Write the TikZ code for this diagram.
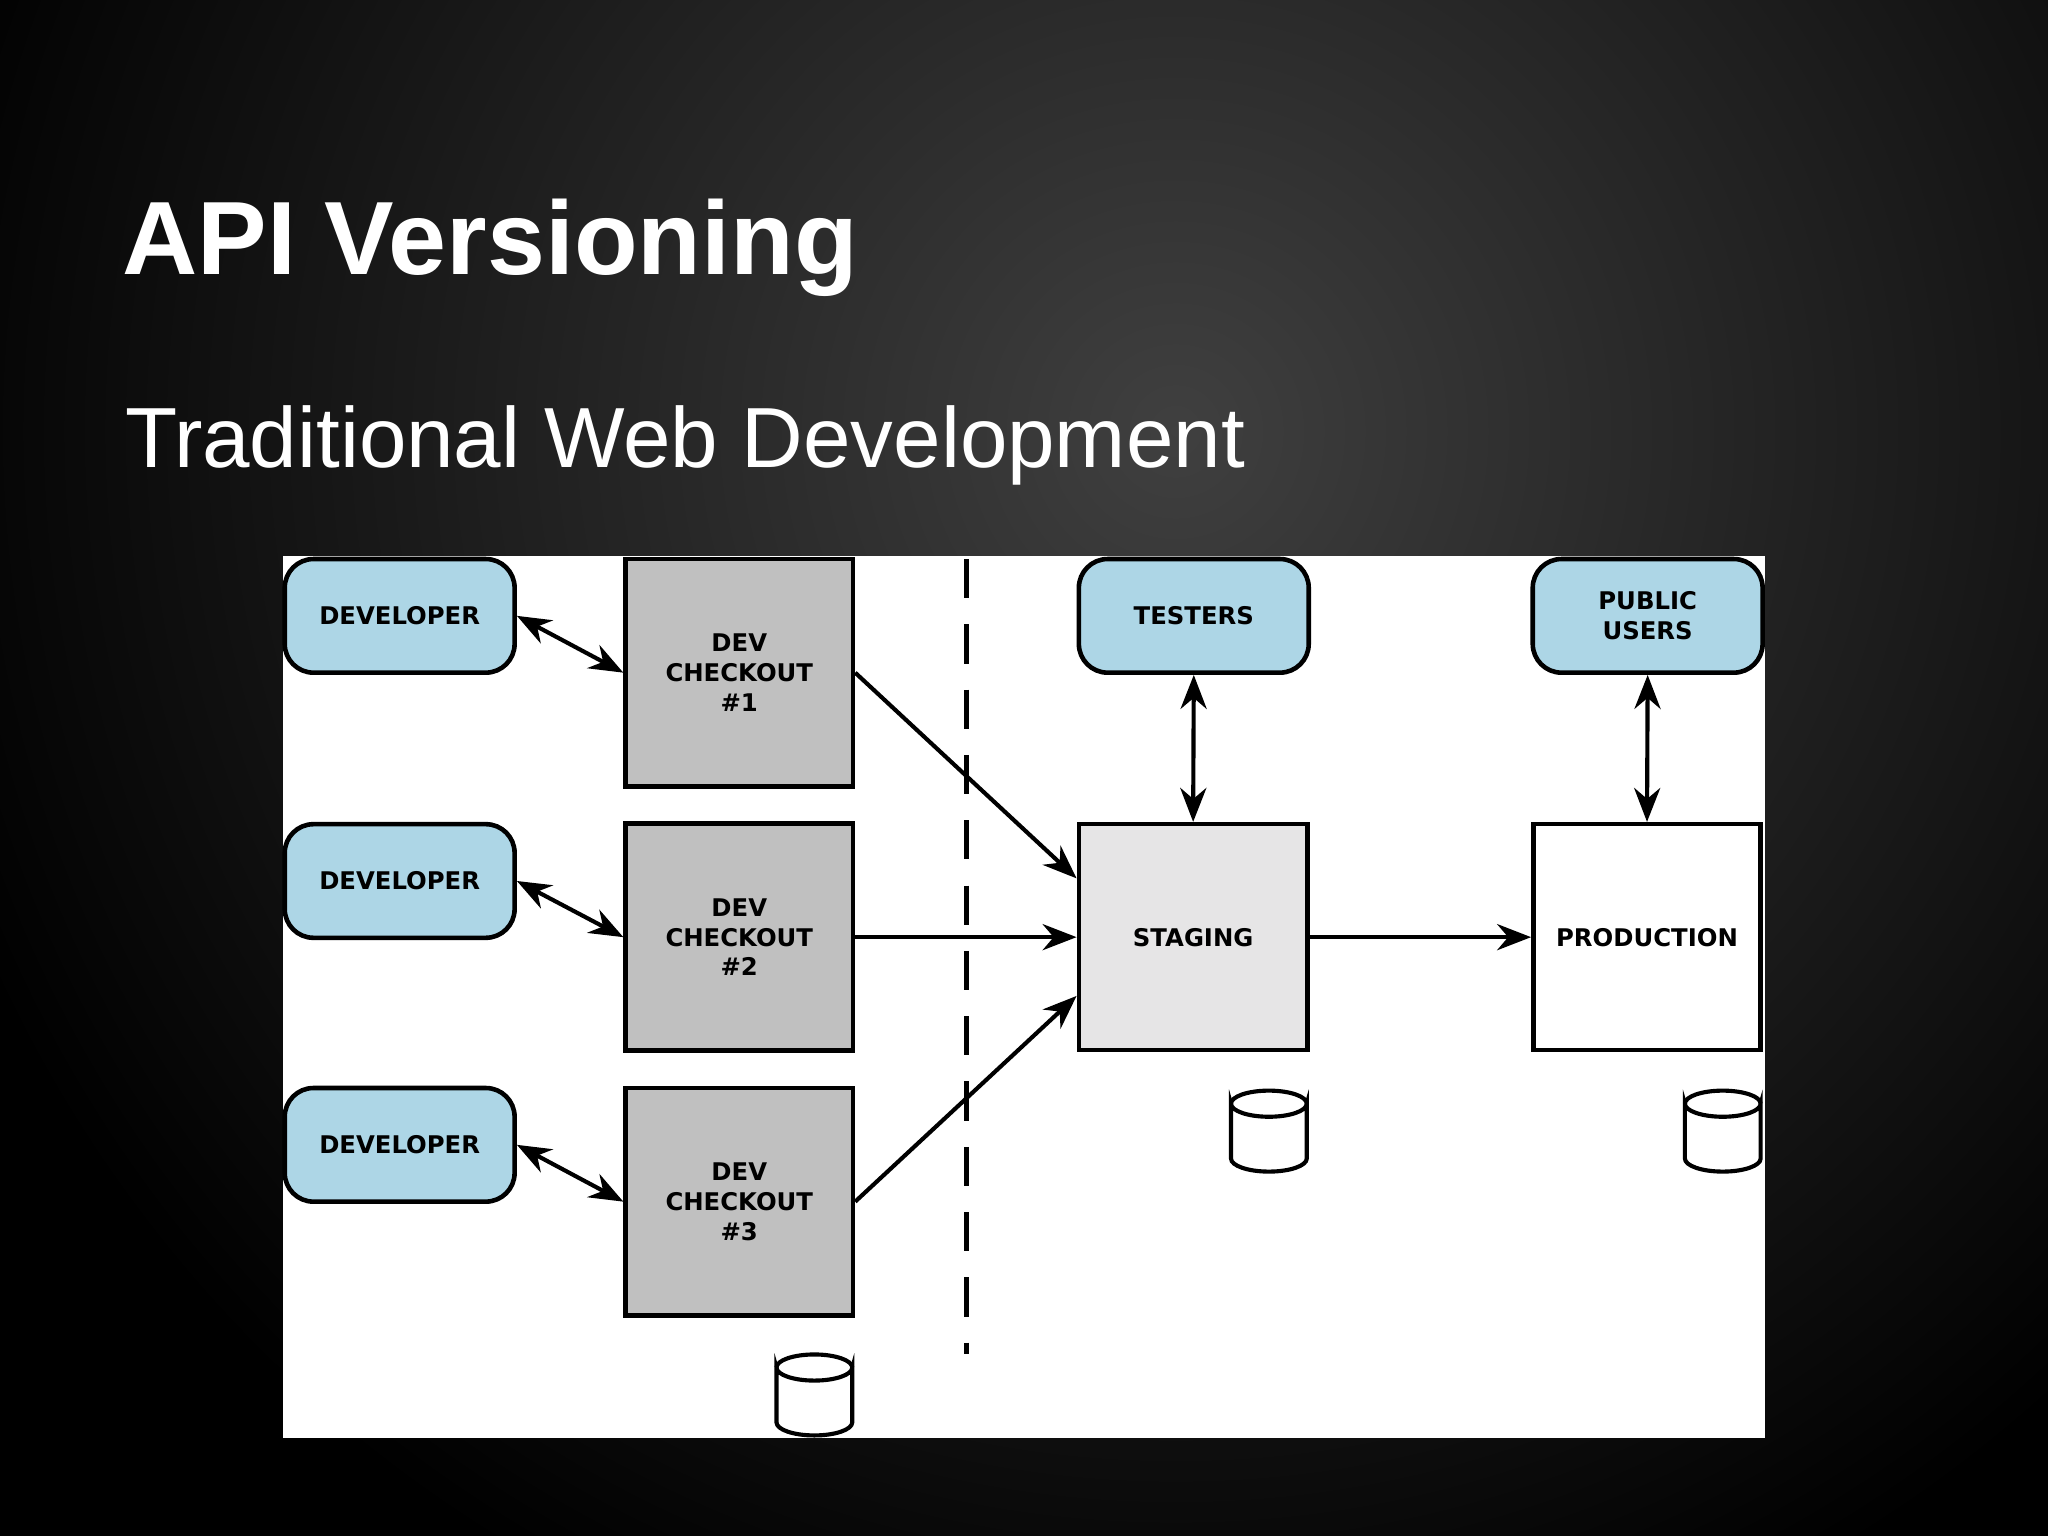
\documentclass[tikz,border=0pt]{standalone}
\usepackage{fontspec}
\setmainfont{Liberation Sans}
\newfontfamily\boxfont{DejaVu Sans}
\usetikzlibrary{arrows.meta,calc}
\definecolor{lblue}{HTML}{ADD6E6}
\definecolor{ckgray}{HTML}{C0C0C0}
\definecolor{stgray}{HTML}{E6E5E6}
\begin{document}
\begin{tikzpicture}[x=0.1mm,y=-0.1mm,
  bx/.style={draw=black,line width=1pt,inner sep=0pt,align=center,
     font=\boxfont\bfseries\fontsize{5.3}{6.5}\selectfont},
  actor/.style={bx,fill=lblue,rounded corners=2.2mm,minimum width=17.6mm,minimum height=8.7mm},
  ck/.style={bx,fill=ckgray,minimum width=17.4mm,minimum height=17.4mm},
  arr/.style={-{Stealth[length=2.6mm,width=2mm]},line width=0.9pt},
  darr/.style={{Stealth[length=2.6mm,width=2mm]}-{Stealth[length=2.6mm,width=2mm]},line width=0.9pt},
  cyl/.style={draw,line width=0.9pt,fill=white}]
\useasboundingbox (0,0) rectangle (1568,1176);
\fill[black] (0,0) rectangle (1568,1176);
\shade[inner color=black!75!white,outer color=black] (900,330) circle (1000);
\fill[white] (217,426) rectangle (1351,1101);
\node[anchor=base west,inner sep=0pt,text=white,font=\bfseries\fontsize{22.7}{27}\selectfont] (title) at (93,210) {API Versioning};
\node[anchor=base west,inner sep=0pt,text=white,font=\fontsize{18.6}{22}\selectfont] (sub) at (95,358) {Traditional Web Development};
\node[actor] (d1) at (306,471.5) {DEVELOPER};
\node[actor] (d2) at (306,674.5) {DEVELOPER};
\node[actor] (d3) at (306,876.5) {DEVELOPER};
\node[ck] (c1) at (566,515) {DEV\\CHECKOUT\\\#1};
\node[ck] (c2) at (566,717.5) {DEV\\CHECKOUT\\\#2};
\node[ck] (c3) at (566,920) {DEV\\CHECKOUT\\\#3};
\node[actor] (t) at (914,471.5) {TESTERS};
\node[actor] (p) at (1261.5,471.5) {PUBLIC\\USERS};
\node[bx,fill=stgray,minimum width=17.5mm,minimum height=17.3mm] (s) at (913.5,717.5) {STAGING};
\node[bx,fill=white,minimum width=17.4mm,minimum height=17.3mm] (pr) at (1261,717.5) {PRODUCTION};
\draw[dashed,line width=1pt,dash pattern=on 3mm off 2mm] (740,428) -- (740,1037);
\foreach \n/\x/\y in {cy1/971.5/835,cy2/1319/835,cy3/623.5/1037}{
  \coordinate (\n) at (\x,\y);
  \draw[cyl] ($(\n)+(-29,10)$) arc[start angle=180,end angle=360,x radius=2.9mm,y radius=1mm]
     -- ++(0,42) arc[start angle=0,end angle=-180,x radius=2.9mm,y radius=1mm] -- cycle;
  \draw[line width=0.9pt] ($(\n)+(-29,10)$) arc[start angle=180,end angle=0,x radius=2.9mm,y radius=1mm];
}
\draw[darr] (d1.east) -- (c1.west);
\draw[darr] (d2.east) -- (c2.west);
\draw[darr] (d3.east) -- (c3.west);
\draw[arr] (c1.east) -- ($(s.west)+(0,-45)$);
\draw[arr] (c2.east) -- (s.west);
\draw[arr] (c3.east) -- ($(s.west)+(0,45)$);
\draw[darr] (t.south) -- (s.north);
\draw[darr] (p.south) -- (pr.north);
\draw[arr] (s.east) -- (pr.west);
\end{tikzpicture}
\end{document}
